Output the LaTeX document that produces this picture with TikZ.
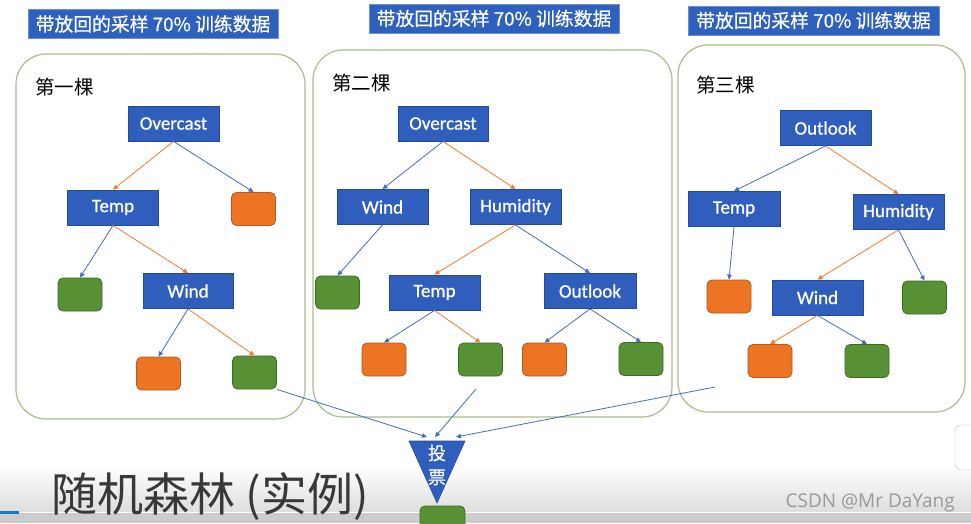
\documentclass[tikz,border=0pt]{standalone}
\usepackage{fontspec}
\newfontfamily\cjk{Noto Sans CJK SC}
\newfontfamily\cjkmed{Noto Sans CJK SC}[FakeBold=0.6]
\newfontfamily\calib{Carlito}[FakeBold=0.9]
\newfontfamily\wmfont{Open Sans}
\usetikzlibrary{arrows.meta}

\definecolor{boxblue}{RGB}{47,94,189}
\definecolor{boxedge}{RGB}{40,74,145}
\definecolor{hdrblue}{RGB}{46,96,190}
\definecolor{leaforange}{RGB}{236,116,34}
\definecolor{orangeedge}{RGB}{178,90,32}
\definecolor{leafgreen}{RGB}{88,145,52}
\definecolor{greenedge}{RGB}{62,105,36}
\definecolor{lineblue}{RGB}{72,108,188}
\definecolor{lineorange}{RGB}{237,125,49}
\definecolor{treeedge}{RGB}{170,190,140}

\begin{document}
\begin{tikzpicture}[x=1pt,y=-1pt,
  treebox/.style={draw=treeedge, line width=1.2pt, rounded corners=30pt, inner sep=0pt},
  hdr/.style={fill=hdrblue, draw=hdrblue!70!white, line width=0.6pt, text=white,
    font=\cjkmed\fontsize{18.8}{20}\selectfont, minimum width=250pt, minimum height=29pt, inner sep=0pt},
  treelabel/.style={font=\cjk\fontsize{19.5}{21}\selectfont, anchor=west, inner sep=0pt},
  dec/.style={draw=boxedge, fill=boxblue, text=white, font=\calib\fontsize{19}{21}\selectfont,
    minimum width=91pt, minimum height=35pt, inner sep=0pt, line width=0.8pt},
  leafo/.style={draw=orangeedge, fill=leaforange, rounded corners=5pt,
    minimum width=44pt, minimum height=33pt, inner sep=0pt, line width=0.8pt},
  leafg/.style={draw=greenedge, fill=leafgreen, rounded corners=5pt,
    minimum width=44pt, minimum height=33pt, inner sep=0pt, line width=0.8pt},
  eb/.style={draw=lineblue, line width=0.8pt, -{Triangle[length=5pt,width=4.5pt]}},
  eo/.style={draw=lineorange, line width=0.8pt, -{Triangle[length=5pt,width=4.5pt]}}
]
\useasboundingbox (0,0) rectangle (971,523);
\clip (0,0) rectangle (971,523);
\fill[white] (0,0) rectangle (971,523);

% grey band along the bottom edge
\shade[top color=white, bottom color=black!13] (0,465) rectangle (971,512);
\fill[black!20] (0,513) rectangle (971,523);
\draw[white, line width=1pt] (0,512.5) -- (971,512.5);
\fill[cyan!60!blue] (0,511) rectangle (19,514);
\draw[black!25, fill=white, rounded corners=6pt] (955,425) rectangle (990,470);

% headers
\node[hdr] (h1) at (153,24) {带放回的采样 70\% 训练数据};
\node[hdr] (h2) at (494,18.5) {带放回的采样 70\% 训练数据};
\node[hdr, minimum width=251pt] (h3) at (813.5,20.5) {带放回的采样 70\% 训练数据};

% frames of the three trees
\node[treebox, minimum width=289pt, minimum height=365pt] (tree1) at (160.5,236.5) {};
\node[treebox, minimum width=359pt, minimum height=367pt] (tree2) at (492.5,233.5) {};
\node[treebox, minimum width=287pt, minimum height=367pt] (tree3) at (821.5,228.5) {};

\node[treelabel] (l1) at (35,87) {第一棵};
\node[treelabel] (l2) at (332,83) {第二棵};
\node[treelabel] (l3) at (696,85) {第三棵};

% tree 1
\node[dec] (a1) at (173.5,123.5) {Overcast};
\node[dec] (a2) at (113,207.5) {Temp};
\node[leafo] (a3) at (253.5,209) {};
\node[leafg] (a4) at (80,294.5) {};
\node[dec, minimum width=90pt] (a5) at (188,291) {Wind};
\node[leafo] (a6) at (158.5,373.5) {};
\node[leafg] (a7) at (254.5,372.5) {};
\draw[eo] (a1.south) -- (a2.north);
\draw[eb] (a1.south) -- (a3.north);
\draw[eb] (a2.south) -- (a4.north);
\draw[eo] (a2.south) -- (a5.north);
\draw[eb] (a5.south) -- (a6.north);
\draw[eo] (a5.south) -- (a7.north);

% tree 2
\node[dec, minimum width=90pt] (b1) at (443,123.5) {Overcast};
\node[dec] (b2) at (382.5,207) {Wind};
\node[dec] (b3) at (515.5,207) {Humidity};
\node[leafg] (b4) at (337.5,292.5) {};
\node[dec] (b5) at (434.5,292.5) {Temp};
\node[dec, minimum width=92pt] (b6) at (590,291) {Outlook};
\node[leafo] (b7) at (384,359.5) {};
\node[leafg] (b8) at (480.5,359.5) {};
\node[leafo] (b9) at (544.5,359.5) {};
\node[leafg] (b10) at (641,359) {};
\draw[eb] (b1.south) -- (b2.north);
\draw[eo] (b1.south) -- (b3.north);
\draw[eb] (b2.south) -- (b4.north);
\draw[eo] (b3.south) -- (b5.north);
\draw[eb] (b3.south) -- (b6.north);
\draw[eb] (b5.south) -- (b7.north);
\draw[eo] (b5.south) -- (b8.north);
\draw[eb] (b6.south) -- (b9.north);
\draw[eb] (b6.south) -- (b10.north);

% tree 3
\node[dec] (c1) at (825.5,128) {Outlook};
\node[dec, minimum width=92pt] (c2) at (734,209) {Temp};
\node[dec] (c3) at (898.5,212) {Humidity};
\node[leafo] (c4) at (729,296.5) {};
\node[dec] (c5) at (817.5,297.5) {Wind};
\node[leafg] (c6) at (924.5,297.5) {};
\node[leafo] (c7) at (770,361) {};
\node[leafg] (c8) at (867,361) {};
\draw[eb] (c1.south) -- (c2.north);
\draw[eo] (c1.south) -- (c3.north);
\draw[eb] (c2.south) -- (c4.north);
\draw[eo] (c3.south) -- (c5.north);
\draw[eb] (c3.south) -- (c6.north);
\draw[eo] (c5.south) -- (c7.north);
\draw[eb] (c5.south) -- (c8.north);

% voting funnel
\fill[boxblue, draw=boxedge, line width=0.6pt] (409,441) -- (465,441) -- (437,503) -- cycle;
\node[font=\cjkmed\fontsize{18}{24}\selectfont, text=white, align=center, inner sep=0pt] (vote) at (437,465) {投\\票};
\node[leafg, minimum width=45pt] (out) at (442.5,522.5) {};

\coordinate (s2) at (476,389);
\coordinate (s3) at (715,387);
\coordinate (v1) at (427,437);
\coordinate (v2) at (435,437);
\coordinate (v3) at (456,437);
\draw[eb] (a7.south east) -- (v1);
\draw[eb] (s2) -- (v2);
\draw[eb] (s3) -- (v3);

% caption and credit
\node[font=\cjk\fontsize{46}{50}\selectfont, text=black!78, anchor=west, inner sep=0pt] (title) at (51,497) {随机森林 (实例)};
\node[font=\wmfont\fontsize{19}{21}\selectfont, text=black!40, anchor=east, inner sep=0pt] (wm) at (955,503) {CSDN @Mr DaYang};
\end{tikzpicture}
\end{document}
